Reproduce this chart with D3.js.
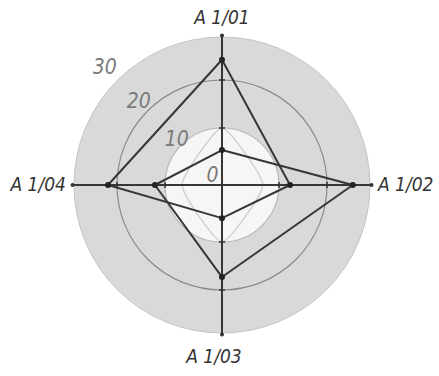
<html>
<script src='https://d3js.org/d3.v7.min.js'></script>
<style>

    body {
      margin: 0;
      background: #fff;
    }

    .lbl {
      font-family: "DejaVu Sans Condensed", "DejaVu Sans", sans-serif;
      font-style: italic;
      font-size: 19px;
    }

    .ringlbl {
      font-size: 21px;
    }

    .poly {
      fill: none;
      stroke: #363636;
      stroke-width: 2px;
      stroke-linejoin: round;
    }

</style>
<body onload='init()'>
<script>

// axes of the chart, clockwise from the top
var axes = ["A 1/01", "A 1/02", "A 1/03", "A 1/04"];

// ring values
var rings = [0, 10, 20, 30];
var ringLabels = ["0", "10", "20", "30"];

// the two series, one value per axis
var seriesA = [24.7, 12.3, 4.7, 22.1];
var seriesB = [5.1, 26.0, 17.3, 12.1];
// faint guide curve inside the inner disc
var guide = [10, 6.4, 10, 6.2];

function init() {

  var width = 439;
  var height = 376;
  var cx = 222;
  var cy = 185;

  var svg = d3.select("body").append("svg")
    .attr("width", width)
    .attr("height", height)
    .append("g")
    .attr("transform", "translate(" + cx + "," + cy + ")");

  // radial scale, the rings are not evenly spaced in the picture
  var r = d3.scaleLinear().domain(rings).range([12, 57, 105, 148]);

  var angle = d3.scalePoint().domain(axes).range([0, 2 * Math.PI * 3 / 4]);

  function pt(axis, v) {
    var a = angle(axis) - Math.PI / 2;
    return [Math.cos(a) * r(v), Math.sin(a) * r(v)];
  }

  // outer gray disc
  svg.append("circle")
    .attr("r", r(30))
    .style("fill", "#d9d9d9")
    .style("stroke", "#c4c4c4")
    .style("stroke-width", 1);

  // 20 ring
  svg.append("circle")
    .attr("r", r(20))
    .style("fill", "none")
    .style("stroke", "#8a8a8a")
    .style("stroke-width", 1.2);

  // inner white disc at 10
  svg.append("circle")
    .attr("r", r(10))
    .style("fill", "#f6f6f6")
    .style("stroke", "#b8b8b8")
    .style("stroke-width", 1.2);

  var line = d3.line()
    .x(function(d) { return d[0]; })
    .y(function(d) { return d[1]; });

  svg.append("path")
    .datum(axes.map(function(a, i) { return pt(a, guide[i]); }))
    .attr("d", line.curve(d3.curveCardinalClosed.tension(0.5)))
    .style("fill", "none")
    .style("stroke", "#d0d0d0")
    .style("stroke-width", 1.5);

  // axis lines
  axes.forEach(function(a) {
    var p = pt(a, 30);
    svg.append("line")
      .attr("x1", 0).attr("y1", 0)
      .attr("x2", p[0] * 1.01).attr("y2", p[1] * 1.01)
      .style("stroke", "#363636")
      .style("stroke-width", 2);
    svg.append("circle")
      .attr("cx", p[0] * 1.01).attr("cy", p[1] * 1.01)
      .attr("r", 2)
      .style("fill", "#333");

    // little ticks where the rings cross
    [10, 20].forEach(function(v) {
      var q = pt(a, v);
      var horiz = Math.abs(q[0]) > Math.abs(q[1]);
      svg.append("line")
        .attr("x1", horiz ? q[0] : q[0] - 3)
        .attr("x2", horiz ? q[0] : q[0] + 3)
        .attr("y1", horiz ? q[1] - 3 : q[1])
        .attr("y2", horiz ? q[1] + 3 : q[1])
        .style("stroke", "#333")
        .style("stroke-width", 1.5);
    });
  });

  line.curve(d3.curveLinearClosed);

  [seriesA, seriesB].forEach(function(s) {
    var pts = axes.map(function(a, i) { return pt(a, s[i]); });
    svg.append("path")
      .datum(pts)
      .attr("class", "poly")
      .attr("d", line);
    svg.selectAll(null)
      .data(pts)
      .enter().append("circle")
      .attr("cx", function(d) { return d[0]; })
      .attr("cy", function(d) { return d[1]; })
      .attr("r", 3)
      .style("fill", "#222");
  });

  // ring labels along the upper left diagonal
  svg.selectAll(".ring")
    .data(rings)
    .enter().append("text")
    .attr("class", "lbl ringlbl")
    .attr("x", function(d) { return -Math.cos(Math.PI / 4) * r(d) * 1.12; })
    .attr("y", function(d) { return -Math.sin(Math.PI / 4) * r(d) * 1.12; })
    .attr("text-anchor", "middle")
    .attr("dominant-baseline", "middle")
    .style("fill", "#7a7a7a")
    .text(function(d, i) { return ringLabels[i]; });

  // axis names
  svg.selectAll(".axisname")
    .data(axes)
    .enter().append("text")
    .attr("class", "lbl")
    .attr("x", function(d, i) {
      var p = pt(d, 30);
      if (i == 1) return p[0] + 8;
      if (i == 3) return p[0] - 8;
      return p[0] + (i == 2 ? -8 : 0);
    })
    .attr("y", function(d, i) {
      var p = pt(d, 30);
      if (i == 0) return p[1] - 19;
      if (i == 2) return p[1] + 24;
      return p[1];
    })
    .attr("text-anchor", function(d, i) { return i == 1 ? "start" : i == 3 ? "end" : "middle"; })
    .attr("dominant-baseline", "middle")
    .style("fill", "#333")
    .text(function(d) { return d; });
}
</script>
</body>
</html>
